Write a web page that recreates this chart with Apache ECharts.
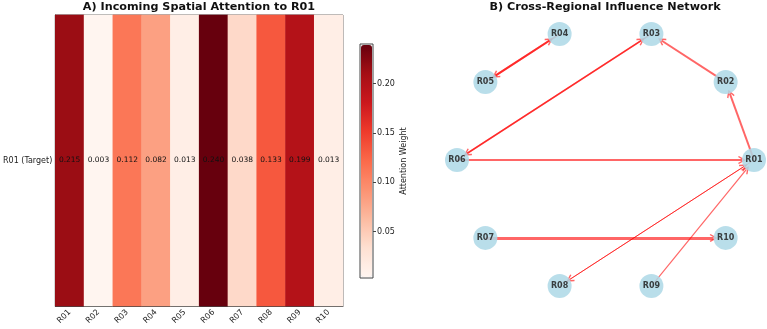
<!DOCTYPE html>
<html lang="en">
<head>
    <meta charset="UTF-8">
    <title>Spatial Attention</title>
    <style>
        html, body { margin: 0; padding: 0; background: #fff; }
        #main { width: 767px; height: 329px; }
    </style>
</head>
<body>
<div id="main"></div>
<script src="https://cdn.jsdelivr.net/npm/echarts@6/dist/echarts.min.js"></script>
<script type="text/javascript">
    // panel A data
    var regions = ['R01', 'R02', 'R03', 'R04', 'R05', 'R06', 'R07', 'R08', 'R09', 'R10'];
    var targetLabel = ['R01 (Target)'];
    var attention = [0.215, 0.003, 0.112, 0.082, 0.013, 0.240, 0.038, 0.133, 0.199, 0.013];
    var colorbarTicks = [0.05, 0.10, 0.15, 0.20];
    var colorMin = 0.003, colorMax = 0.240;
    // matplotlib "Reds"
    var reds = ['#fff5f0', '#fee0d2', '#fcbba1', '#fc9272', '#fb6a4a', '#ef3b2c', '#cb181d', '#a50f15', '#67000d'];

    // panel B data: [source, target, width]
    var edgeList = [
        ['R06', 'R01', 2.2],
        ['R01', 'R02', 2],
        ['R02', 'R03', 2],
        ['R06', 'R03', 1.5],
        ['R03', 'R06', 1.5],
        ['R04', 'R05', 2],
        ['R05', 'R04', 2],
        ['R07', 'R10', 3.2],
        ['R01', 'R08', 1],
        ['R08', 'R01', 1],
        ['R09', 'R01', 1.2]
    ];

    var heatData = attention.map(function (v, i) { return [i, 0, v]; });

    // circular layout, first node on the right, counter-clockwise
    var nodes = regions.map(function (r, i) {
        var a = i * 2 * Math.PI / regions.length;
        return { name: r, value: [Math.cos(a), Math.sin(a)] };
    });
    var links = edgeList.map(function (e) {
        return { source: e[0], target: e[1], lineStyle: { width: e[2] } };
    });

    var myChart = echarts.init(document.getElementById('main'));
    var option = {
        animation: false,
        textStyle: { fontFamily: 'DejaVu Sans' },
        title: [
            {
                text: 'A) Incoming Spatial Attention to R01',
                left: 199, top: 2, padding: 0, textAlign: 'center',
                textStyle: { fontSize: 11.2, fontWeight: 'bold', color: '#111' }
            },
            {
                text: 'B) Cross-Regional Influence Network',
                left: 605, top: 2, padding: 0, textAlign: 'center',
                textStyle: { fontSize: 11.2, fontWeight: 'bold', color: '#111' }
            }
        ],
        grid: [
            { left: 55, top: 15, width: 288, height: 291, show: true, borderColor: '#555', borderWidth: 1, backgroundColor: 'transparent' },
            { left: 360, top: 44, width: 13, height: 234, show: true, borderColor: '#444', borderWidth: 1, backgroundColor: 'transparent' },
            { left: 457, top: 27.5, width: 297, height: 265 }
        ],
        xAxis: [
            {
                type: 'category', gridIndex: 0, data: regions,
                axisLine: { lineStyle: { color: '#444' } },
                axisTick: { alignWithLabel: true, length: 3, lineStyle: { color: '#444' } },
                axisLabel: { rotate: 45, fontSize: 8, color: '#222', margin: 5 },
                splitLine: { show: false }
            },
            { type: 'value', gridIndex: 1, min: 0, max: 1, show: false },
            { type: 'value', gridIndex: 2, min: -1, max: 1, show: false }
        ],
        yAxis: [
            {
                type: 'category', gridIndex: 0, data: targetLabel,
                axisLine: { lineStyle: { color: '#444' } },
                axisTick: { alignWithLabel: true, length: 3.5, lineStyle: { color: '#444' } },
                axisLabel: { fontSize: 8, color: '#222', margin: 3 },
                splitLine: { show: false }
            },
            {
                type: 'value', gridIndex: 1, position: 'right',
                min: colorMin, max: colorMax,
                axisLine: { show: false, onZero: false },
                axisTick: { show: true, length: 3, customValues: colorbarTicks, lineStyle: { color: '#444' } },
                axisLabel: {
                    fontSize: 8, color: '#222', margin: 4, customValues: colorbarTicks,
                    formatter: function (v) { return v.toFixed(2); }
                },
                splitLine: { show: false },
                name: 'Attention Weight', nameLocation: 'middle', nameGap: 27, nameRotate: 90,
                nameTextStyle: { fontSize: 8, color: '#222' }
            },
            { type: 'value', gridIndex: 2, min: -1, max: 1, show: false }
        ],
        visualMap: {
            type: 'continuous',
            seriesIndex: 0,
            min: colorMin, max: colorMax,
            inRange: { color: reds },
            calculable: false,
            showLabel: false,
            text: null,
            left: 361, top: 45,
            itemWidth: 11, itemHeight: 232,
            padding: 0,
            orient: 'vertical'
        },
        series: [
            {
                type: 'heatmap',
                xAxisIndex: 0, yAxisIndex: 0,
                data: heatData,
                label: {
                    show: true, fontSize: 7.5, color: '#111',
                    formatter: function (p) { return p.value[2].toFixed(3); }
                },
                emphasis: { disabled: true }
            },
            {
                type: 'graph',
                coordinateSystem: 'cartesian2d',
                xAxisIndex: 2, yAxisIndex: 2,
                symbolSize: 24,
                data: nodes,
                links: links,
                edgeSymbol: ['none', 'path://M5,0L10,8L8.6,9L5,3.2L1.4,9L0,8Z'],
                edgeSymbolSize: [0, 8],
                itemStyle: { color: '#add8e6', opacity: 0.85 },
                lineStyle: { color: '#ff0000', opacity: 0.6, curveness: 0 },
                label: { show: true, fontSize: 8, fontWeight: 'bold', color: '#222' },
                emphasis: { disabled: true }
            }
        ]
    };
    myChart.setOption(option);
</script>
</body>
</html>
